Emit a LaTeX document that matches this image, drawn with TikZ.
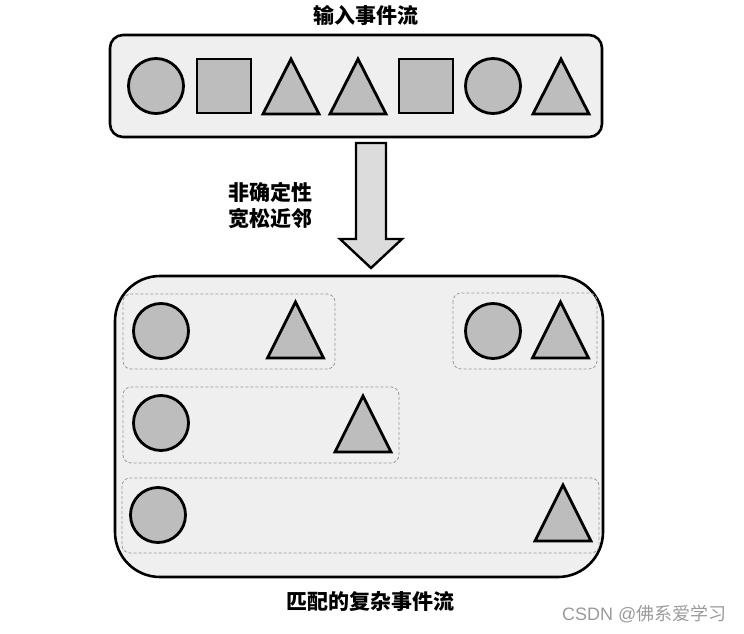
\documentclass[tikz,border=0pt]{standalone}
\usepackage{fontspec}
\newfontfamily\cjk{Noto Sans CJK SC}
\newfontfamily\wmlatin{Liberation Sans}
\definecolor{boxfill}{HTML}{EFEFEF}
\definecolor{shapegray}{HTML}{BDBDBD}
\definecolor{arrowfill}{HTML}{DCDCDC}
\definecolor{dashgray}{HTML}{9A9A9A}
\definecolor{wmgray}{HTML}{9A9A9A}
\begin{document}
\begin{tikzpicture}[x=1pt,y=-1pt,
  shp/.style={draw=black, line width=2.8pt, fill=shapegray, line join=miter},
  outerbox/.style={draw=black, line width=2.6pt, fill=boxfill},
  groupbox/.style={draw=dashgray, line width=0.8pt, dash pattern=on 3pt off 2pt, rounded corners=8pt},
  disc/.style={shp, circle, minimum size=55pt, inner sep=0pt},
  sq/.style={shp, rectangle, minimum size=54pt, inner sep=0pt},
  lbl/.style={font=\cjk\bfseries\fontsize{21}{25}\selectfont, text=black, inner sep=0pt, align=center},
  bigarrow/.style={draw=black, line width=2.4pt, fill=arrowfill, line join=miter}
]
\useasboundingbox (0,0) rectangle (744,634);
\newcommand\tri[4]{\draw[shp] (#2-28,#4) coordinate (#1l) -- (#2,#3) coordinate (#1) -- (#2+28,#4) coordinate (#1r) -- cycle;}

% title
\node[lbl] (title) at (366,15) {输入事件流};

% input stream box
\draw[outerbox, rounded corners=13pt] (110,35) rectangle (602,137);
\node[disc] (in1) at (156,86) {};
\node[sq] (in2) at (224,86) {};
\tri{in3}{291}{59}{114}
\tri{in4}{358}{59}{114}
\node[sq] (in5) at (426,86) {};
\node[disc] (in6) at (493,86) {};
\tri{in7}{561}{59}{114}

% arrow
\draw[bigarrow] (356,143) coordinate (atop) -- (386,143) -- (386,239) -- (402,239) -- (371,268) coordinate (atip) -- (340,239) -- (356,239) -- cycle;
\node[lbl, align=center] (mid) at (270,205) {非确定性\\[1pt]宽松近邻};

% output box
\draw[outerbox, rounded corners=45pt] (115,276) rectangle (603,577);

% groups
\draw[groupbox] (123,294) rectangle (335,369);
\draw[groupbox] (453,293) rectangle (597,369);
\draw[groupbox] (123,387) rectangle (399,463);
\draw[groupbox] (122,478) rectangle (599,553);

\node[disc] (g1c) at (161,331) {};
\tri{g1t}{295.5}{302}{358}
\node[disc] (g2c) at (493,331) {};
\tri{g2t}{560.5}{302}{358}
\node[disc] (g3c) at (161,423) {};
\tri{g3t}{363}{396}{452}
\node[disc] (g4c) at (158,515) {};
\tri{g4t}{563}{485}{541}

% bottom label
\node[lbl] (out) at (370,602) {匹配的复杂事件流};

% watermark
\node[font=\fontsize{18}{21}\selectfont, text=wmgray, inner sep=0pt, anchor=west] (wm) at (562,614) {\wmlatin CSDN @\cjk 佛系爱学习};
\end{tikzpicture}
\end{document}
